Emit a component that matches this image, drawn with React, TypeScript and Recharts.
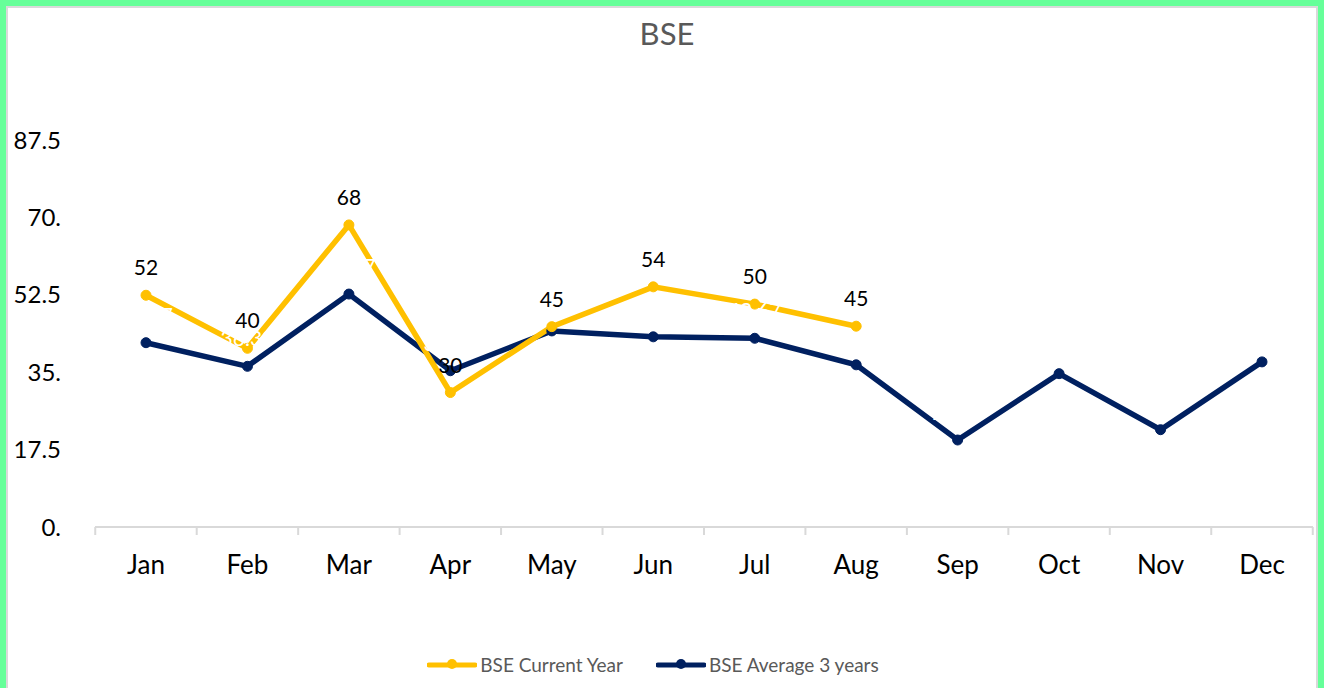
import { LabelList, Legend, Line, LineChart, XAxis, YAxis } from "recharts";

const months = ["Jan", "Feb", "Mar", "Apr", "May", "Jun", "Jul", "Aug", "Sep", "Oct", "Nov", "Dec"];
const currentYear = [52.4, 40.4, 68.3, 30.4, 45.3, 54.3, 50.4, 45.4, null, null, null, null];
const average3Years = [41.67, 36.33, 52.67, 35.33, 44.33, 43.0, 42.67, 36.67, 19.67, 34.67, 22.0, 37.33];
const yTicks = [0, 17.5, 35, 52.5, 70, 87.5];
const yTickLabels = ["0.", "17.5", "35.", "52.5", "70.", "87.5"];

const YELLOW = "#ffc000";
const NAVY = "#002060";
const FONT = "Lato, 'Open Sans', sans-serif";

const data = months.map((m, i) => ({
  month: m,
  current: currentYear[i],
  average: average3Years[i],
}));

function MonthTick(props: any) {
  const { x, y, payload, index, width } = props;
  const band = (width ?? 1218) / months.length;
  return (
    <g>
      <line x1={x - band / 2} x2={x - band / 2} y1={y} y2={y + 8} stroke="#d9d9d9" strokeWidth={2} />
      {index === months.length - 1 && (
        <line x1={x + band / 2} x2={x + band / 2} y1={y} y2={y + 8} stroke="#d9d9d9" strokeWidth={2} />
      )}
      <text x={x} y={y + 47} textAnchor="middle" fontSize={26} fill="#000" fontFamily={FONT}>
        {payload.value}
      </text>
    </g>
  );
}

function LegendContent() {
  const items = [
    { label: "BSE Current Year", color: YELLOW },
    { label: "BSE Average 3 years", color: NAVY },
  ];
  return (
    <div
      style={{
        display: "flex",
        justifyContent: "center",
        gap: 33,
        paddingRight: 32,
        fontFamily: FONT,
        fontSize: 19,
        color: "#595959",
      }}
    >
      {items.map((it) => (
        <div key={it.label} style={{ display: "flex", alignItems: "center" }}>
          <svg width={50} height={14} style={{ marginRight: 3 }}>
            <line x1={2} x2={48} y1={7} y2={7} stroke={it.color} strokeWidth={5} strokeLinecap="round" />
            <circle cx={25} cy={6} r={5} fill={it.color} />
          </svg>
          <span>{it.label}</span>
        </div>
      ))}
    </div>
  );
}

export default function App() {
  return (
    <div style={{ position: "absolute", left: 0, top: 0, width: 1324, height: 688, overflow: "hidden", background: "#fff" }}>
      <div
        style={{
          position: "absolute",
          left: 0,
          top: 0,
          width: 1324,
          height: 700,
          boxSizing: "border-box",
          border: "6px solid #66ff99",
        }}
      >
        <div style={{ width: "100%", height: "100%", boxSizing: "border-box", border: "2px solid #d9d9d9" }} />
      </div>
      <div
        style={{
          position: "absolute",
          left: 0,
          top: 14,
          width: 1334,
          textAlign: "center",
          fontFamily: FONT,
          fontSize: 31,
          color: "#595959",
        }}
      >
        BSE
      </div>
      <div style={{ position: "absolute", left: 0, top: 0 }}>
        <LineChart width={1324} height={688} data={data} margin={{ top: 140, right: 11, left: 25, bottom: 78 }}>
          <XAxis
            dataKey="month"
            axisLine={{ stroke: "#d9d9d9", strokeWidth: 2 }}
            tickLine={false}
            tickSize={0}
            tickMargin={0}
            height={60}
            padding={{ left: 51, right: 51 }}
            tick={<MonthTick />}
            interval={0}
          />
          <YAxis
            domain={[0, 87.5]}
            ticks={yTicks}
            axisLine={false}
            tickLine={false}
            width={70}
            tickMargin={28}
            tick={{ fontSize: 24, fill: "#000", fontFamily: FONT }}
            tickFormatter={(v: number) => yTickLabels[yTicks.indexOf(v)] ?? String(v)}
          />
          <Legend verticalAlign="bottom" content={<LegendContent />} wrapperStyle={{ bottom: 12 }} />
          <Line
            dataKey="average"
            name="BSE Average 3 years"
            stroke={NAVY}
            strokeWidth={5.5}
            dot={{ r: 5, fill: NAVY, stroke: NAVY, strokeWidth: 1 }}
            isAnimationActive={false}
          >
            <LabelList
              dataKey="average"
              position="top"
              offset={20}
              fill="#ffffff"
              fontSize={21}
              fontFamily={FONT}
              formatter={(v: any) => Number(v).toFixed(2)}
            />
          </Line>
          <Line
            dataKey="current"
            name="BSE Current Year"
            stroke={YELLOW}
            strokeWidth={5.5}
            dot={{ r: 5, fill: YELLOW, stroke: YELLOW, strokeWidth: 1 }}
            isAnimationActive={false}
          >
            <LabelList
              dataKey="current"
              position="top"
              offset={20}
              fill="#000"
              fontSize={21}
              fontFamily={FONT}
              formatter={(v: any) => (v == null ? "" : String(Math.round(Number(v))))}
            />
          </Line>
        </LineChart>
      </div>
    </div>
  );
}
